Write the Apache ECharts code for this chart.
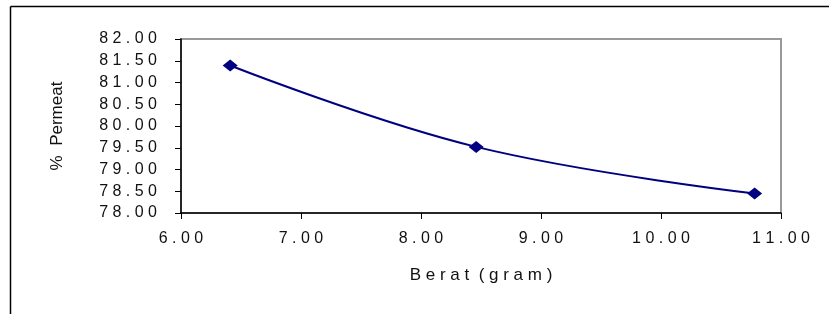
<!DOCTYPE html>
<html>
<head>
<meta charset="utf-8">
<script src="https://cdn.jsdelivr.net/npm/echarts@6/dist/echarts.min.js"></script>
<style>
  html, body { margin: 0; padding: 0; background: #fff; }
  #chart { width: 829px; height: 314px; }
</style>
</head>
<body>
<div id="chart"></div>
<script>
// data
var berat = [6.41, 8.46, 10.78];
var permeat = [81.39, 79.52, 78.45];
var yTicks = [78, 82, 0.5];   // min, max, step
var xTicks = [6, 11, 1];

// spread characters apart like the original's wide letter spacing
function spaced(s) {
    return s.split('').join(' ');
}

var chart = echarts.init(document.getElementById('chart'));

var option = {
    animation: false,
    backgroundColor: '#ffffff',
    textStyle: { fontFamily: 'Liberation Sans, Arial, sans-serif' },
    grid: {
        left: 181,
        top: 39,
        right: 48,
        bottom: 101,
        show: true,
        borderColor: '#999999',
        borderWidth: 2
    },
    graphic: [
        { type: 'line', shape: { x1: 10.5, y1: 6.5, x2: 829, y2: 6.5 }, style: { stroke: '#000', lineWidth: 1.5 } },
        { type: 'line', shape: { x1: 10.5, y1: 6.5, x2: 10.5, y2: 314 }, style: { stroke: '#000', lineWidth: 1.5 } }
    ],
    xAxis: {
        type: 'value',
        min: xTicks[0],
        max: xTicks[1],
        interval: xTicks[2],
        name: spaced('Berat') + '  ' + spaced('(gram)'),
        nameLocation: 'middle',
        nameGap: 54,
        nameTextStyle: { fontSize: 17, color: '#111' },
        axisLine: { lineStyle: { color: '#000', width: 1.5 } },
        axisTick: { length: 6, lineStyle: { color: '#000' } },
        axisLabel: {
            fontSize: 16,
            color: '#111',
            margin: 18,
            formatter: function (v) { return spaced(v.toFixed(2)); }
        },
        splitLine: { show: false }
    },
    yAxis: {
        type: 'value',
        min: yTicks[0],
        max: yTicks[1],
        interval: yTicks[2],
        name: '%  Permeat',
        nameLocation: 'middle',
        nameGap: 115,
        nameTextStyle: { fontSize: 17, color: '#111' },
        axisLine: { show: true, lineStyle: { color: '#000', width: 1.5 } },
        axisTick: { show: true, length: 6, lineStyle: { color: '#000' } },
        axisLabel: {
            fontSize: 16,
            color: '#111',
            margin: 24,
            formatter: function (v) { return spaced(v.toFixed(2)); }
        },
        splitLine: { show: false }
    },
    series: [
        {
            type: 'line',
            smooth: 0.4,
            data: berat.map(function (b, i) { return [b, permeat[i]]; }),
            symbol: 'diamond',
            symbolSize: [15, 12],
            lineStyle: { color: '#000080', width: 2 },
            itemStyle: { color: '#000080' }
        }
    ]
};

chart.setOption(option);
</script>
</body>
</html>
